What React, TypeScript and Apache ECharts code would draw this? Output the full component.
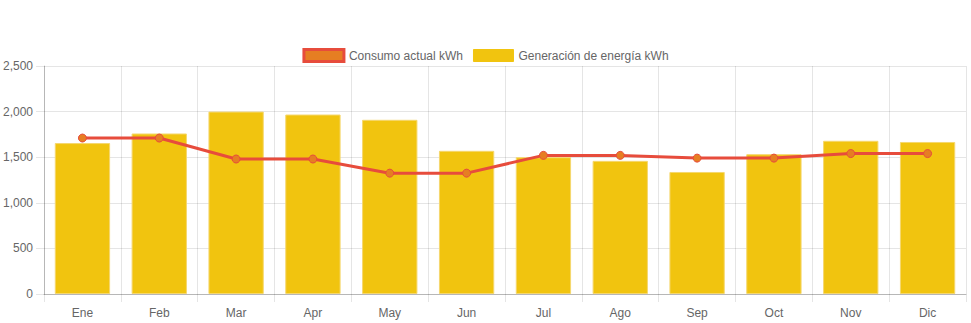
import React, { useEffect, useRef } from "react";
import * as echarts from "echarts";

const months = ["Ene", "Feb", "Mar", "Apr", "May", "Jun", "Jul", "Ago", "Sep", "Oct", "Nov", "Dic"];
const consumo = [1710, 1710, 1480, 1480, 1325, 1325, 1520, 1520, 1490, 1490, 1540, 1540];
const generacion = [1655, 1760, 2000, 1968, 1910, 1570, 1500, 1460, 1338, 1533, 1680, 1667];
const yTicks = [0, 500, 1000, 1500, 2000, 2500];

const FONT = "'Liberation Sans', Arial, Helvetica, sans-serif";
const GRID = "rgba(0,0,0,0.1)";
const AXIS = "rgba(0,0,0,0.2)";

export default function App() {
  const ref = useRef<HTMLDivElement>(null);
  useEffect(() => {
    if (!ref.current) return;
    const chart = echarts.init(ref.current, undefined, { renderer: "svg" });
    chart.setOption({
      animation: false,
      textStyle: { fontFamily: FONT },
      legend: {
        top: 43,
        left: "center",
        itemWidth: 40,
        itemHeight: 12,
        itemGap: 10,
        textStyle: { color: "#666", fontSize: 12, fontFamily: FONT },
        data: [
          {
            name: "Consumo actual kWh",
            icon: "rect",
            itemStyle: { color: "#e67e22", borderColor: "#e74c3c", borderWidth: 3 },
          },
          {
            name: "Generación de energía kWh",
            icon: "rect",
            itemStyle: { color: "#f1c40f", borderColor: "#f1c40f", borderWidth: 1 },
          },
        ],
      },
      grid: { left: 44, right: 5, top: 66, bottom: 29, containLabel: false },
      xAxis: {
        type: "category",
        data: months,
        boundaryGap: true,
        axisLine: { show: true, lineStyle: { color: AXIS } },
        axisTick: { show: true, length: 8, interval: 0, lineStyle: { color: GRID } },
        axisLabel: { color: "#666", fontSize: 12, margin: 13, fontFamily: FONT },
        splitLine: { show: true, interval: 0, lineStyle: { color: GRID } },
      },
      yAxis: {
        type: "value",
        min: yTicks[0],
        max: yTicks[yTicks.length - 1],
        interval: 500,
        axisLine: { show: true, lineStyle: { color: AXIS } },
        axisTick: { show: true, length: 8, lineStyle: { color: GRID } },
        axisLabel: {
          color: "#666",
          fontSize: 12,
          margin: 11,
          fontFamily: FONT,
          formatter: (v: number) => v.toLocaleString("en-US"),
        },
        splitLine: { show: true, lineStyle: { color: GRID } },
      },
      series: [
        {
          name: "Consumo actual kWh",
          type: "line",
          data: consumo,
          z: 5,
          symbol: "circle",
          symbolSize: 8,
          lineStyle: { color: "#e74c3c", width: 3 },
          itemStyle: { color: "#e67e22", borderColor: "#e74c3c", borderWidth: 1 },
        },
        {
          name: "Generación de energía kWh",
          type: "bar",
          data: generacion,
          z: 2,
          barWidth: "72%",
          itemStyle: { color: "#f1c40f", borderColor: "rgba(245,215,110,1)", borderWidth: 1 },
        },
      ],
    });
    return () => chart.dispose();
  }, []);
  return (
    <div
      ref={ref}
      style={{ position: "fixed", left: 0, top: 0, width: 971, height: 323, background: "#fff" }}
    />
  );
}
